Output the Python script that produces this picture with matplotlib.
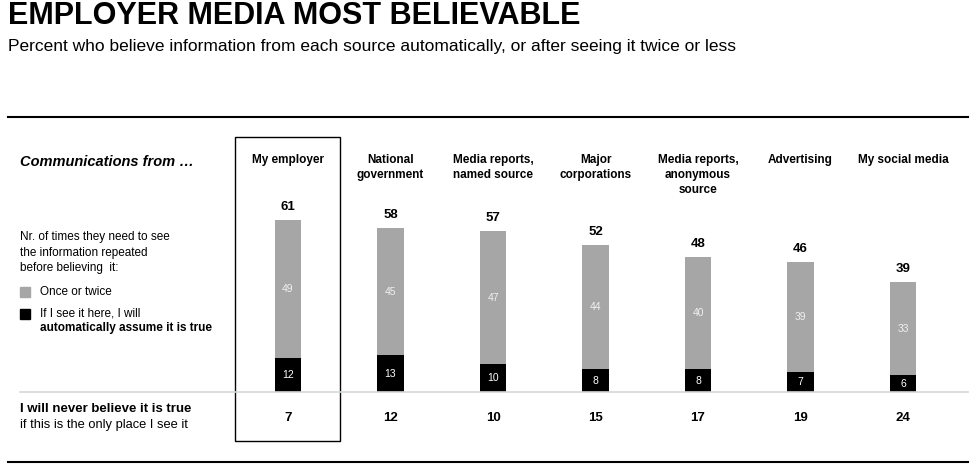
import matplotlib.pyplot as plt
import matplotlib.transforms as mtransforms
from matplotlib.patches import Rectangle
import numpy as np

plt.rcParams['font.family'] = ['Liberation Sans', 'DejaVu Sans']

categories = ['My employer', 'National\ngovernment', 'Media reports,\nnamed source',
              'Major\ncorporations', 'Media reports,\nanonymous\nsource',
              'Advertising', 'My social media']
automatic = [12, 13, 10, 8, 8, 7, 6]
once_twice = [49, 45, 47, 44, 40, 39, 33]
totals = [61, 58, 57, 52, 48, 46, 39]
never = [7, 12, 10, 15, 17, 19, 24]

W, H = 972, 474
def fx(x): return x / W
def fy(y): return 1 - y / H

fig = plt.figure(figsize=(9.72, 4.74), dpi=100)
ax = fig.add_axes([fx(236.75), fy(392), 717.5 / W, (70 * 2.82) / H])
x = np.arange(len(categories))
bw = 0.254
gray = '#a6a6a6'
ax.bar(x, automatic, bw, color='black')
ax.bar(x, once_twice, bw, bottom=automatic, color=gray)
for i in x:
    ax.text(i, automatic[i] / 2, str(automatic[i]), ha='center', va='center',
            color='white', fontsize=7.5)
    ax.text(i, automatic[i] + once_twice[i] / 2, str(once_twice[i]), ha='center',
            va='center', color='#f0f0f0', fontsize=7.5)
    ax.annotate(str(totals[i]), (i, totals[i]), xytext=(0, 5), textcoords='offset points',
                ha='center', va='bottom', fontsize=9.5, fontweight='bold')
ax.set_xlim(-0.5, 6.5)
ax.set_ylim(0, 70)
ax.axis('off')

blend = mtransforms.blended_transform_factory(ax.transData, fig.transFigure)
for i, c in enumerate(categories):
    ax.text(i, fy(154), c, transform=blend, ha='center', va='top', fontsize=8.5,
            fontweight='bold', linespacing=1.35)
    ax.text(i, fy(418), str(never[i]), transform=blend, ha='center', va='center',
            fontsize=9.5, fontweight='bold')

# title
fig.text(fx(8), fy(16), 'EMPLOYER MEDIA MOST BELIEVABLE', fontsize=22, fontweight='bold',
         va='center', ha='left')
fig.text(fx(8), fy(47), 'Percent who believe information from each source automatically, or after seeing it twice or less',
         fontsize=12.5, va='center', ha='left')

# rules
fig.add_artist(plt.Line2D([fx(8), fx(968)], [fy(117), fy(117)], color='black', lw=1.5))
fig.add_artist(plt.Line2D([fx(8), fx(968)], [fy(462), fy(462)], color='black', lw=1.5))
fig.add_artist(plt.Line2D([fx(20), fx(968)], [fy(392), fy(392)], color='#d3d8d8', lw=1.2))

# highlight box
fig.add_artist(Rectangle((fx(235), fy(441)), fx(340) - fx(235), fy(137) - fy(441),
                         transform=fig.transFigure, fill=False, edgecolor='black', lw=1))

# left side text
fig.text(fx(20), fy(162), 'Communications from \u2026', fontsize=10.5, fontweight='bold',
         fontstyle='italic', va='center')
fig.text(fx(20), fy(231), 'Nr. of times they need to see\nthe information repeated\nbefore believing  it:',
         fontsize=8.5, va='top', linespacing=1.4)
fig.add_artist(Rectangle((fx(20), fy(297)), 10 / W, 10 / H, transform=fig.transFigure,
                         color=gray))
fig.add_artist(Rectangle((fx(20), fy(319)), 10 / W, 10 / H, transform=fig.transFigure,
                         color='black'))
fig.text(fx(40), fy(292), 'Once or twice', fontsize=8.5, va='center')
fig.text(fx(40), fy(313), 'If I see it here, I will', fontsize=8.5, va='center')
fig.text(fx(40), fy(328), 'automatically assume it is true', fontsize=8.5, va='center',
         fontweight='bold')
fig.text(fx(20), fy(409), 'I will never believe it is true', fontsize=9.5, va='center',
         fontweight='bold')
fig.text(fx(20), fy(425), 'if this is the only place I see it', fontsize=9.3, va='center')

fig.savefig('out.png', dpi=100)
